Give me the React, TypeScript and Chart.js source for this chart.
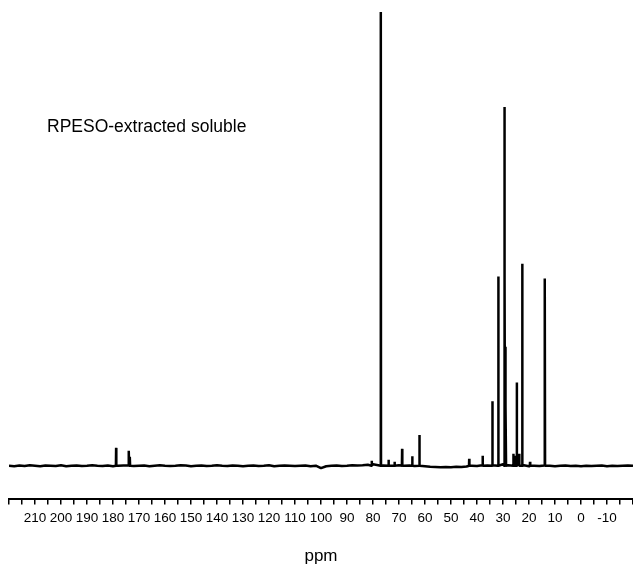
import React, { useEffect, useRef } from "react";
import { Chart, registerables } from "chart.js";

Chart.register(...registerables);

// Peak positions (ppm) and heights (arbitrary intensity units, baseline = 0)
const PEAK_PPM = [178.8, 173.9, 173.5, 80.5, 77.0, 74.0, 71.7, 68.8, 64.9, 62.2, 43.0, 37.8, 34.1, 31.8, 29.5, 29.3, 29.1, 28.9, 26.0, 25.5, 24.7, 23.8, 22.6, 19.6, 13.9];
const PEAK_HEIGHT = [18, 15, 9, 5, 470, 6, 4, 17, 9.5, 31, 7, 10, 65, 191, 362, 188, 120, 60, 12, 10, 84, 12, 204, 4, 189];

// Baseline readings every 2 ppm from 220 down to -20
const BASE_START = 220;
const BASE_STEP = 2;
const BASELINE = [
  0, -0.5, 0.3, -0.3, 0.5, 0, -0.5, 0.3, 0, -0.3, 0.5, -0.5, 0, 0.3, -0.3, 0,
  0.5, 0, -0.3, 0.3, -0.5, 0, 0.3, 0.5, -0.3, 0, 0.3, -0.5, 0, 0.5, 0,
  -0.3, 0, 0.5, 0.3, -0.5, 0, 0.3, -0.3, 0, 0.5, 0, -0.3, 0.3, 0, -0.5,
  0, 0.3, -0.3, 0, 0.5, -0.5, 0, 0.3, 0, -0.3, 0, 0.3, -0.5, 0, -2.5,
  -0.5, 0, 0.3, -0.3, 0, 0.5, 0.3, 0.5, 1, 1.5,
  0.5, 0.3, 0.5, 0, 0.5, 0, 0.3, -0.3, 0, -0.5,
  -1, -1.2, -1.5, -1.2, -1.5, -1, -1.2, -0.8, 0, -0.3,
  0.5, 0.3, 0.5, 0, 1.5, 0.5, 0, 1.5, 0.5, -0.5,
  0, -0.3, 0.3, 0, -0.5, 0, 0.3, -0.3, 0, -0.5,
  0, -0.3, 0, 0.3, -0.5, 0, -0.3, 0, 0.3, 0,
];

const TICK_LABELS = [210, 200, 190, 180, 170, 160, 150, 140, 130, 120, 110, 100, 90, 80, 70, 60, 50, 40, 30, 20, 10, 0, -10];
const X_MIN = -20;
const X_MAX = 220;
const Y_MIN = -34;
const Y_MAX = 458;
const ANNOTATION = "RPESO-extracted soluble";
const X_TITLE = "ppm";

function buildSpectrum() {
  const pts: { x: number; y: number }[] = [];
  BASELINE.forEach((v, i) => pts.push({ x: BASE_START - BASE_STEP * i, y: v }));
  PEAK_PPM.forEach((p, i) => {
    pts.push({ x: p + 0.08, y: 0 });
    pts.push({ x: p, y: PEAK_HEIGHT[i] });
    pts.push({ x: p - 0.08, y: 0 });
  });
  pts.sort((a, b) => b.x - a.x);
  return pts;
}

export default function App() {
  const ref = useRef<HTMLCanvasElement | null>(null);

  useEffect(() => {
    if (!ref.current) return;
    const font = "'Liberation Sans', Arial, Helvetica, sans-serif";
    const chart = new Chart(ref.current, {
      type: "line",
      data: {
        datasets: [
          {
            data: buildSpectrum(),
            borderColor: "#000",
            borderWidth: 2.5,
            pointRadius: 0,
            tension: 0,
            borderJoinStyle: "bevel",
            fill: false,
          },
        ],
      },
      options: {
        responsive: false,
        animation: false,
        events: [],
        layout: { padding: { top: 12, left: 9, right: 0, bottom: 0 } },
        plugins: { legend: { display: false }, tooltip: { enabled: false } },
        scales: {
          x: {
            type: "linear",
            reverse: true,
            min: X_MIN,
            max: X_MAX,
            afterFit: (scale: any) => {
              scale.paddingLeft = 0;
              scale.paddingRight = 0;
            },
            border: { display: true, color: "#000", width: 2 },
            grid: { drawOnChartArea: false, drawTicks: true, tickLength: 5, color: "#000", lineWidth: 1.5 },
            ticks: {
              stepSize: 5,
              autoSkip: false,
              maxRotation: 0,
              minRotation: 0,
              padding: 6,
              color: "#000",
              font: { family: font, size: 13.5 },
              callback: (v: any) => (TICK_LABELS.includes(Number(v)) ? String(v) : ""),
            },
            title: {
              display: true,
              text: X_TITLE,
              color: "#000",
              font: { family: font, size: 17 },
              padding: { top: 14, bottom: 0 },
            },
          },
          y: { display: false, min: Y_MIN, max: Y_MAX },
        },
      },
    });
    return () => chart.destroy();
  }, []);

  return (
    <div style={{ position: "absolute", left: 0, top: 0, width: 633, height: 567, background: "#fff" }}>
      <canvas ref={ref} width={633} height={567} />
      <div
        style={{
          position: "absolute",
          left: 47,
          top: 116,
          fontFamily: "'Liberation Sans', Arial, sans-serif",
          fontSize: 17.5,
          lineHeight: "20px",
          color: "#000",
          whiteSpace: "nowrap",
        }}
      >
        {ANNOTATION}
      </div>
    </div>
  );
}
